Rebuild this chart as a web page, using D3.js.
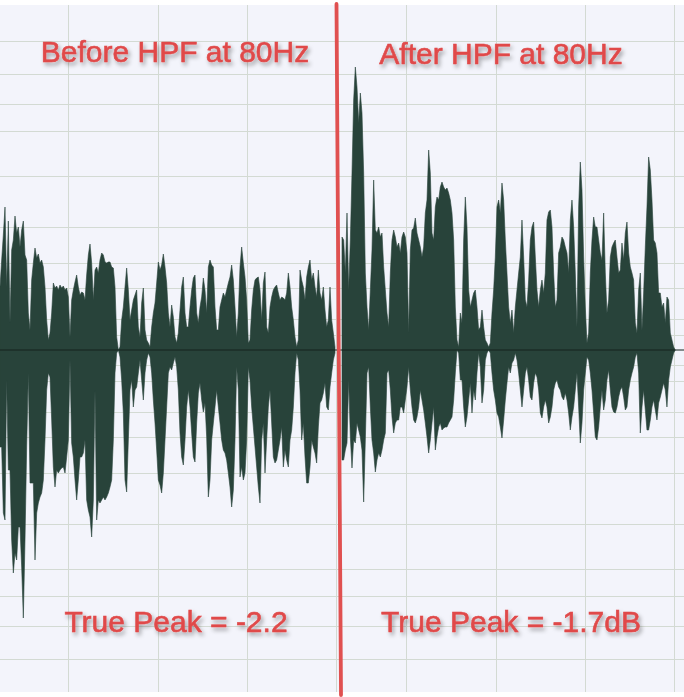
<!DOCTYPE html>
<html><head><meta charset="utf-8">
<script src="https://cdn.jsdelivr.net/npm/d3@7"></script>
<style>html,body{margin:0;padding:0;background:#fff;}svg{display:block;}</style>
</head><body>
<svg id="chart" width="684" height="697"></svg>
<script>
// ---- data (waveform envelope levels; full scale = 347 level units) ----
const fullScale = 347;
const topBefore = [63,90,115,143,63,129,27,100,110,134,117,123,103,120,129,95,90,37,20,
70,87,102,92,96,87,90,83,63,30,10,17,37,67,62,64,60,65,62,64,60,62,
53,13,50,60,68,75,63,55,58,57,50,75,95,106,87,50,80,83,77,90,
97,95,88,87,88,88,83,82,63,13,0,3,30,43,63,82,60,30,40,50,
55,60,23,13,47,62,20,10,7,3,23,37,47,67,88,80,85,96,83,67,
37,23,45,33,13,7,17,40,63,73,37,23,23,43,60,72,75,37,27,43,
53,72,60,37,83,90,85,83,43,20,20,43,50,57,53,60,67,73,85,70,
43,13,37,83,103,87,73,50,7,10,40,60,70,72,73,60,30,67,78,23,
17,43,53,60,63,65,57,50,53,52,50,57,77,63,43,30,13,3,10,80,
70,63,50,73,83,90,70,77,63,53,80,57,50,63,40,23,30,63,30,17,3];
const bottomBefore = [97,97,163,170,30,120,120,190,223,203,210,177,177,217,268,190,97,23,133,
133,133,210,163,153,147,143,130,90,40,23,27,70,117,137,120,123,120,118,117,123,107,
90,10,93,107,130,150,130,107,107,103,90,150,160,167,187,150,40,170,150,153,
150,147,150,147,143,137,130,90,23,3,0,7,30,63,130,142,90,40,30,57,
40,37,23,10,30,50,23,10,3,7,23,50,73,100,130,135,143,123,90,57,
23,17,20,13,7,17,40,83,107,115,90,57,40,57,83,107,112,73,43,33,
50,62,53,87,147,130,90,73,57,40,57,73,90,100,103,110,123,137,157,140,
90,17,40,127,117,130,123,90,17,30,57,77,97,117,137,153,90,73,123,90,
57,40,73,107,113,110,100,90,77,117,100,110,117,90,80,57,23,3,10,40,
90,73,107,133,133,117,90,97,103,113,77,53,50,43,33,57,60,37,23,10,3];
const topAfter = [113,110,77,137,60,110,177,250,283,263,227,257,237,177,77,43,20,60,100,170,
120,117,123,113,117,83,60,37,23,77,110,120,113,103,107,97,113,118,113,97,
17,100,120,122,132,117,110,103,93,103,137,150,200,177,117,110,143,153,150,163,
168,163,160,162,157,150,137,110,43,10,3,37,27,110,153,123,60,43,50,57,
60,43,20,23,40,23,10,7,3,7,37,60,93,143,150,137,167,150,110,77,
43,27,40,17,43,60,77,93,130,93,50,43,70,110,123,128,93,60,43,60,
70,57,77,130,138,140,123,77,43,50,97,103,113,110,103,97,77,130,150,123,
77,23,143,188,160,93,43,7,17,77,110,133,123,123,110,97,90,137,77,37,
50,93,103,107,110,93,77,80,107,90,117,128,97,83,77,70,27,17,60,77,
20,57,103,143,193,180,150,110,107,97,57,57,43,47,27,53,50,17,10,3,0];
const bottomAfter = [110,110,100,93,30,87,118,90,93,73,80,87,100,152,90,23,17,57,90,103,
122,110,103,107,100,90,83,23,20,40,67,83,73,70,70,57,57,63,50,37,
17,40,57,70,73,67,57,40,50,60,73,87,103,90,73,57,100,87,77,73,
80,78,77,77,73,70,67,50,23,0,3,30,30,57,77,67,50,33,63,40,
50,23,3,17,53,40,10,3,0,3,23,40,50,63,67,77,88,70,50,33,
17,23,13,10,3,10,23,40,57,40,23,17,30,47,50,33,23,27,40,63,
68,57,50,57,73,67,57,40,33,30,37,40,47,50,43,50,63,80,67,57,
40,23,57,93,73,40,23,7,10,23,40,63,87,90,77,57,40,60,50,30,
20,40,57,62,63,57,47,40,37,47,60,57,40,30,23,17,7,3,23,83,
57,40,60,80,80,70,57,50,60,70,53,47,40,33,40,57,30,17,10,3,0];
// grid ticks
const dbTicks = [-1,-2,-3,-4,-6,-9,-12,-15,-21,-27];
const gridBefore = [41, 94.5, 148, 201.5];   // sample index
const gridAfter = [38.4, 92.4, 145.8, 199.2]; // sample index
const labelsTop = ["Before HPF at 80Hz", "After HPF at 80Hz"];
const labelsBottom = ["True Peak = -2.2", "True Peak = -1.7dB"];

// ---- layout ----
const W = 684, H = 697, cy = 350, R = 347;
const svg = d3.select("#chart");
const defs = svg.append("defs");
const f = defs.append("filter").attr("id","shadow").attr("x","-10%").attr("y","-30%").attr("width","130%").attr("height","170%");
f.append("feDropShadow").attr("dx",2).attr("dy",3).attr("stdDeviation",2).attr("flood-color","#000").attr("flood-opacity",0.35);

svg.append("rect").attr("width",W).attr("height",H).attr("fill","#ffffff");
svg.append("rect").attr("x",0).attr("y",5).attr("width",W).attr("height",687).attr("fill","#f3f4fb");

const y = d3.scaleLinear().domain([-fullScale, fullScale]).range([cy + R, cy - R]);
const xBefore = d3.scaleLinear().domain([0, topBefore.length - 1]).range([0, 335]);
const xAfter = d3.scaleLinear().domain([0, topAfter.length - 1]).range([342, 675.3]);

// horizontal grid (dB)
const gridG = svg.append("g").attr("stroke","#d3dad3").attr("stroke-width",1);
dbTicks.forEach(db => {
  const a = fullScale * Math.pow(10, db / 20);
  [a, -a].forEach(v => {
    const yy = Math.round(y(v)) + 0.5;
    gridG.append("line").attr("x1",0).attr("x2",W).attr("y1",yy).attr("y2",yy);
  });
});
// vertical grid
gridBefore.forEach(t => { const xx = Math.round(xBefore(t)) + 0.5;
  gridG.append("line").attr("x1",xx).attr("x2",xx).attr("y1",5).attr("y2",692); });
gridAfter.forEach(t => { const xx = Math.round(xAfter(t)) + 0.5;
  gridG.append("line").attr("x1",xx).attr("x2",xx).attr("y1",5).attr("y2",692); });

// waveforms
function wave(topArr, botArr, xs) {
  const pts = topArr.map((v, i) => ({i, t: v, b: botArr[i]}));
  const area = d3.area().x(d => xs(d.i)).y0(d => y(-d.b)).y1(d => y(d.t)).curve(d3.curveLinear);
  svg.append("path").datum(pts).attr("d", area).attr("fill","#28433a").attr("stroke","#28433a").attr("stroke-width",0.6);
}
wave(topBefore, bottomBefore, xBefore);
wave(topAfter, bottomAfter, xAfter);

// zero line
svg.append("line").attr("x1",0).attr("x2",W).attr("y1",y(0)).attr("y2",y(0)).attr("stroke","#15221c").attr("stroke-width",1.2);

// red divider
svg.append("line").attr("x1",336.5).attr("y1",4).attr("x2",341).attr("y2",695)
  .attr("stroke","#e05050").attr("stroke-width",3.8).attr("stroke-linecap","round");

// labels
const txt = svg.append("g").attr("font-family","'Liberation Sans', Arial, sans-serif")
  .attr("font-size",30).attr("fill","#e04a4a").attr("stroke","#e04a4a").attr("stroke-width",0.6)
  .attr("text-anchor","middle").attr("filter","url(#shadow)");
txt.append("text").attr("x",175).attr("y",62).text(labelsTop[0]);
txt.append("text").attr("x",501).attr("y",64).text(labelsTop[1]);
txt.append("text").attr("x",176).attr("y",632).text(labelsBottom[0]);
txt.append("text").attr("x",511).attr("y",632).text(labelsBottom[1]);
</script>
</body></html>
